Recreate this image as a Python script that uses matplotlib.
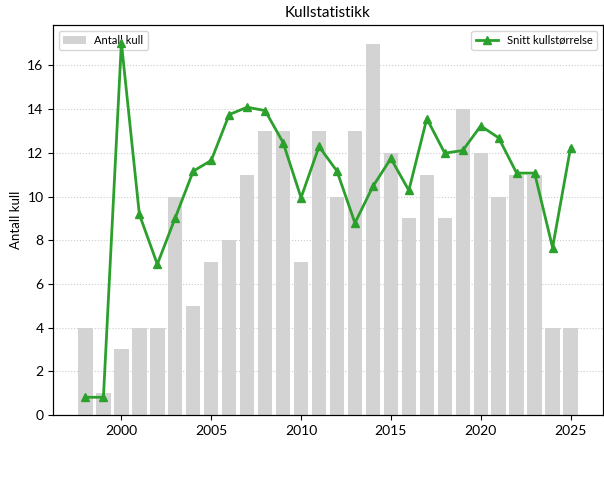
import matplotlib
matplotlib.use("Agg")
import matplotlib.pyplot as plt

plt.rcParams['font.family'] = ['Lato', 'DejaVu Sans']

# Data
years = list(range(1998, 2026))
antall_kull = [4, 1, 3, 4, 4, 10, 5, 7, 8, 11, 13, 13, 7, 13, 10, 13, 17, 12, 9, 11, 9, 14, 12, 10, 11, 11, 4, 4]
snitt_kullstorrelse = [1.0, 1.0, 6.33, 3.75, 3.0, 3.7, 4.4, 4.56, 5.25, 5.36, 5.31, 4.83, 4.0, 4.77,
                       4.4, 3.62, 4.17, 4.59, 4.11, 5.19, 4.67, 4.71, 5.08, 4.9, 4.37, 4.37, 3.25, 4.75]

fig = plt.figure(figsize=(6.04, 4.83), dpi=100)
ax = fig.add_axes([53.3 / 604, 68 / 483, 549.4 / 604, 390 / 483])

ax.bar(years, antall_kull, color='lightgray', label='Antall kull', zorder=2)
ax.set_ylabel('Antall kull', fontsize=9.5)
ax.grid(axis='y', linestyle=':', color='#cccccc', linewidth=0.8, zorder=0)
ax.set_axisbelow(True)
ax.legend(loc='upper left', fontsize=8)

ax2 = ax.twinx()
ax2.plot(years, snitt_kullstorrelse, color='#2ca02c', marker='^', markersize=6,
         linewidth=2, label='Snitt kullstørrelse')
ax2.legend(loc='upper right', fontsize=8)
# right-hand tick labels fall outside the saved canvas in the original
ax2.tick_params(labelright=False)

ax.set_title('Kullstatistikk', fontsize=11)
ax.tick_params(labelsize=10)

fig.savefig('out.png', dpi=100)
